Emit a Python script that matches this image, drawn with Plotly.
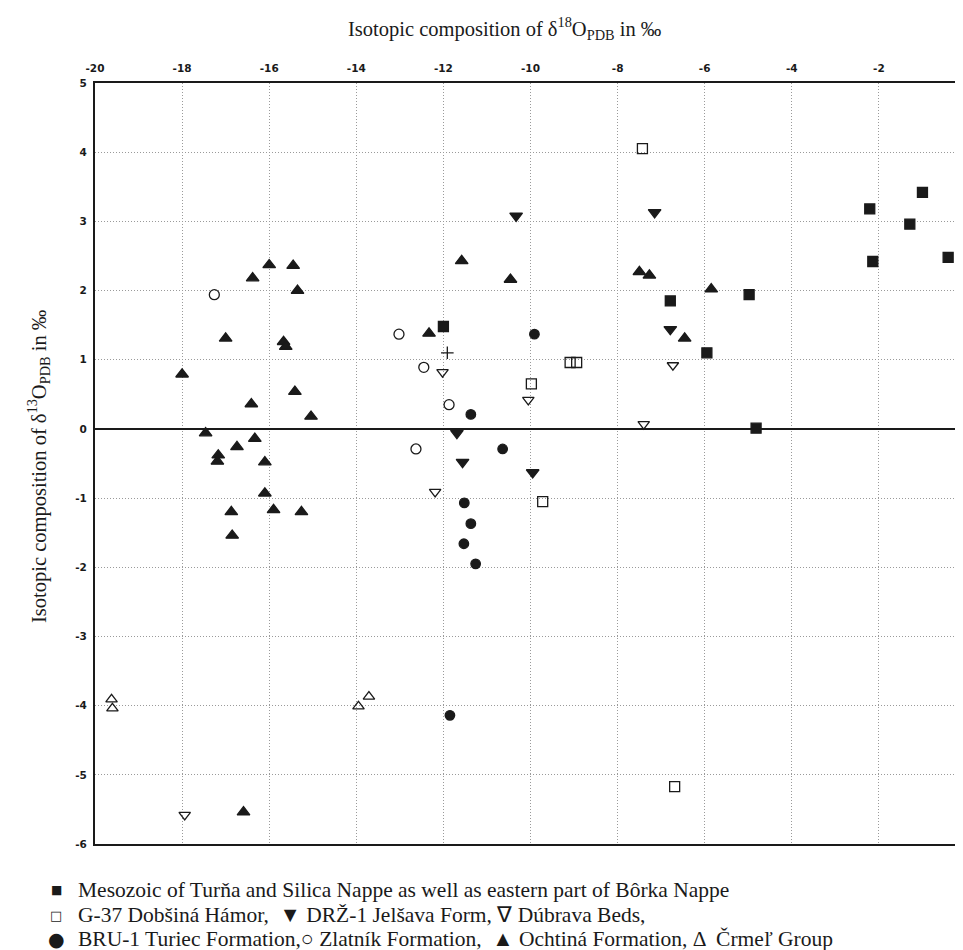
import plotly.graph_objects as go

# ---- data ----
meso_x = [-12.0, -6.79, -5.95, -4.98, -4.82, -2.21, -2.14, -1.29, -1.0, -0.41]
meso_y = [1.48, 1.85, 1.1, 1.94, 0.01, 3.18, 2.42, 2.96, 3.42, 2.48]

g37_x = [-7.43, -9.09, -8.94, -9.98, -9.72, -6.69]
g37_y = [4.05, 0.96, 0.96, 0.65, -1.05, -5.17]

drz_x = [-10.33, -7.15, -6.79, -11.69, -11.56, -9.95]
drz_y = [3.08, 3.13, 1.44, -0.06, -0.48, -0.63]

dubrava_x = [-12.02, -10.05, -6.73, -7.4, -12.19, -17.94]
dubrava_y = [0.82, 0.42, 0.92, 0.07, -0.91, -5.58]

bru_x = [-9.91, -11.37, -10.64, -11.52, -11.37, -11.53, -11.26, -11.85]
bru_y = [1.37, 0.21, -0.29, -1.07, -1.37, -1.66, -1.95, -4.14]

zlatnik_x = [-17.26, -13.02, -12.45, -11.87, -12.63]
zlatnik_y = [1.94, 1.37, 0.89, 0.35, -0.29]

ochtina_x = [-16.0, -15.45, -16.38, -15.35, -17.0, -15.67, -15.62, -18.0, -15.41,
             -16.41, -15.04, -17.46, -16.33, -16.74, -17.17, -17.19, -16.1, -16.1,
             -15.9, -15.26, -16.87, -16.85, -16.59, -11.58, -10.46, -12.33, -7.5,
             -7.27, -5.85, -6.46]
ochtina_y = [2.37, 2.36, 2.18, 2.0, 1.31, 1.26, 1.19, 0.79, 0.54,
             0.36, 0.18, -0.06, -0.14, -0.26, -0.38, -0.47, -0.48, -0.93,
             -1.17, -1.2, -1.2, -1.54, -5.54, 2.43, 2.16, 1.38, 2.27,
             2.22, 2.02, 1.31]

crmel_x = [-19.62, -19.6, -13.95, -13.71]
crmel_y = [-3.91, -4.04, -4.01, -3.87]

plus_x = [-11.91]
plus_y = [1.1]

x_ticks = [-20, -18, -16, -14, -12, -10, -8, -6, -4, -2, 0]
x_tick_labels = ["-20", "-18", "-16", "-14", "-12", "-10", "-8", "-6", "-4", "-2", "0"]
y_ticks = [5, 4, 3, 2, 1, 0, -1, -2, -3, -4, -5, -6]
y_tick_labels = ["5", "4", "3", "2", "1", "0", "-1", "-2", "-3", "-4", "-5", "-6"]

legend_symbols = ["■", "□", "●"]
legend_texts = [
    "Mesozoic of Turňa and Silica Nappe as well as eastern part of Bôrka Nappe",
    "G-37 Dobšiná Hámor,  ▼ DRŽ-1 Jelšava Form, ∇ Dúbrava Beds,",
    "BRU-1 Turiec Formation,○ Zlatník Formation,  ▲ Ochtiná Formation, Δ  Črmeľ Group",
]

INK = "#1a1a1a"

series = [
    ("Mesozoic", meso_x, meso_y, "square", 10),
    ("G-37", g37_x, g37_y, "square-open", 10),
    ("DRZ-1", drz_x, drz_y, "triangle-down", 11),
    ("Dubrava", dubrava_x, dubrava_y, "triangle-down-open", 10),
    ("BRU-1", bru_x, bru_y, "circle", 9.5),
    ("Zlatnik", zlatnik_x, zlatnik_y, "circle-open", 10),
    ("Ochtina", ochtina_x, ochtina_y, "triangle-up", 11),
    ("Crmel", crmel_x, crmel_y, "triangle-up-open", 10),
    ("plus", plus_x, plus_y, "cross-thin-open", 9),
]

fig = go.Figure()
for name, xs, ys, sym, size in series:
    fig.add_trace(go.Scatter(
        x=xs, y=ys, mode="markers", name=name, showlegend=False,
        marker=dict(symbol=sym, size=size, color=INK,
                    line=dict(color=INK, width=1.3)),
        cliponaxis=False,
    ))

L, R, T, B = 87, 5, 75, 114
W, H = 963, 950
fig.update_layout(
    width=W, height=H,
    margin=dict(l=L, r=R, t=T, b=B, autoexpand=False),
    paper_bgcolor="white", plot_bgcolor="white",
    showlegend=False,
    font=dict(family="DejaVu Sans", color=INK),
)

grid = dict(showgrid=True, gridcolor="#9a9a9a", griddash="1px,2px", gridwidth=1)
tickfont = dict(family="DejaVu Sans", size=10.5, color=INK, weight="bold")
fig.update_xaxes(
    range=[-20, 0], side="top", automargin=False,
    tickvals=x_ticks, ticktext=x_tick_labels,
    tickfont=tickfont, ticklabelstandoff=5,
    showline=True, mirror=True, linecolor=INK, linewidth=2,
    zeroline=False, ticks="", ticklen=0, **grid,
)
fig.update_yaxes(
    range=[-6, 5], automargin=False,
    tickvals=y_ticks, ticktext=y_tick_labels,
    tickfont=tickfont, ticklabelstandoff=4,
    showline=True, mirror=True, linecolor=INK, linewidth=2,
    zeroline=True, zerolinecolor=INK, zerolinewidth=1.5,
    ticks="", ticklen=0, **grid,
)

pw, ph = W - L - R, H - T - B


def px_x(x):
    return (x - L) / pw


def px_y(y):
    return (H - B - y) / ph


annotations = [
    dict(text="Isotopic composition of δ<sup>18</sup>O<sub>PDB</sub> in ‰",
         xref="paper", yref="paper", x=px_x(497), y=px_y(20),
         showarrow=False, xanchor="center", yanchor="middle",
         font=dict(family="Liberation Serif", size=20.5, color=INK)),
    dict(text="Isotopic composition of δ<sup>13</sup>O<sub>PDB</sub> in ‰",
         xref="paper", yref="paper", x=px_x(30), y=px_y(458), textangle=-90,
         showarrow=False, xanchor="center", yanchor="middle",
         font=dict(family="Liberation Serif", size=20.5, color=INK)),
]
legend_y_px = [882, 907, 931]
sym_sizes = [12, 13, 19]
for sym, txt, ypx, ss in zip(legend_symbols, legend_texts, legend_y_px, sym_sizes):
    annotations.append(dict(
        text=sym, xref="paper", yref="paper",
        x=px_x(48), y=px_y(ypx),
        showarrow=False, xanchor="center", yanchor="middle",
        font=dict(family="DejaVu Sans", size=ss, color=INK),
    ))
    annotations.append(dict(
        text=txt, xref="paper", yref="paper",
        x=px_x(68), y=px_y(ypx),
        showarrow=False, xanchor="left", yanchor="middle",
        font=dict(family="Liberation Serif", size=21.5, color=INK),
    ))
fig.update_layout(annotations=annotations)

fig.write_html("out.html")
